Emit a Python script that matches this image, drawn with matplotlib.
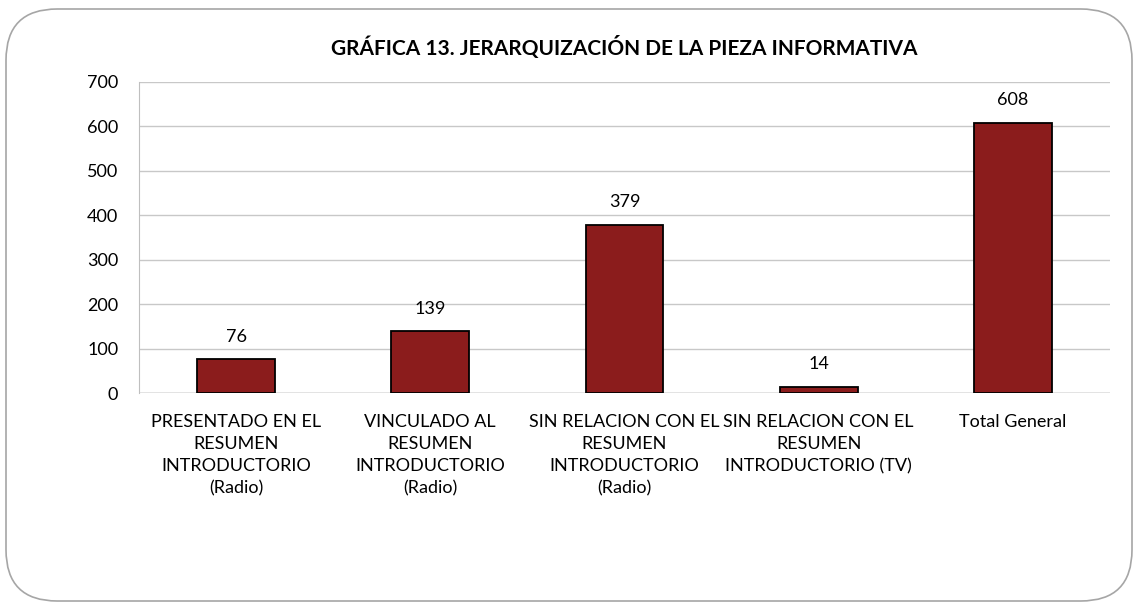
import matplotlib.pyplot as plt
from matplotlib.patches import FancyBboxPatch

categories = ["PRESENTADO EN EL\nRESUMEN\nINTRODUCTORIO\n(Radio)",
              "VINCULADO AL\nRESUMEN\nINTRODUCTORIO\n(Radio)",
              "SIN RELACION CON EL\nRESUMEN\nINTRODUCTORIO\n(Radio)",
              "SIN RELACION CON EL\nRESUMEN\nINTRODUCTORIO (TV)",
              "Total General"]
values = [76, 139, 379, 14, 608]
yticks = [0, 100, 200, 300, 400, 500, 600, 700]
title = "GRÁFICA 13. JERARQUIZACIÓN DE LA PIEZA INFORMATIVA"

plt.rcParams['font.family'] = ['Lato', 'DejaVu Sans']

fig = plt.figure(figsize=(11.38, 6.02), dpi=100)
# rounded outer border
border = FancyBboxPatch((6/1138, 1/602), 1126/1138, 592/602,
                        boxstyle="round,pad=0,rounding_size=0.045",
                        transform=fig.transFigure, facecolor="none",
                        edgecolor="#a6a6a6", linewidth=1.2,
                        mutation_aspect=1138/602, zorder=-1)
fig.patches.append(border)

ax = fig.add_axes([139/1138, 1 - 393/602, (1110-139)/1138, (393-82)/602])
ax.set_facecolor("none")
x = range(len(values))
bars = ax.bar(x, values, width=0.4, color="#8b1c1c", edgecolor="black", linewidth=1.3, zorder=3)
for xi, v in zip(x, values):
    ax.text(xi, v + 33, str(v), ha="center", va="bottom", fontsize=13)

ax.set_xlim(-0.5, len(values) - 0.5)
ax.set_ylim(0, 700)
ax.set_yticks(yticks)
ax.set_yticklabels([str(t) for t in yticks], fontsize=13)
ax.set_xticks(list(x))
ax.set_xticklabels(categories, fontsize=13, linespacing=1.46, va="top")
ax.tick_params(axis="y", length=0, pad=15)
ax.tick_params(axis="x", length=0, pad=15)
ax.grid(axis="y", color="#c8c8c8", linewidth=1, zorder=0)
for s in ["top", "right", "bottom"]:
    ax.spines[s].set_visible(False)
ax.spines["left"].set_color("#bfbfbf")
ax.axhline(0, color="#a0a0a0", linewidth=1, zorder=2)

fig.text(624/1138, 1 - 48/602, title, ha="center", va="center",
         fontsize=15, fontweight="bold")

fig.savefig("out.png", dpi=100)
